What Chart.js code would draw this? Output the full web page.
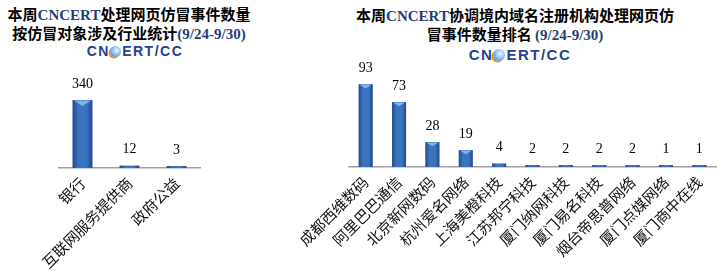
<!DOCTYPE html>
<html>
<head>
<meta charset="utf-8">
<script src="https://cdn.jsdelivr.net/npm/chart.js@4/dist/chart.umd.min.js"></script>
<style>
body { margin: 0; width: 726px; height: 280px; background: #fff; position: relative; overflow: hidden; font-family: 'Noto Sans CJK SC', sans-serif; }
canvas { position: absolute; top: 0; }
.title { position: absolute; text-align: center; font-weight: bold; font-size: 15px; line-height: 18px; color: #000; white-space: nowrap; }
.en { font-family: 'Liberation Serif', serif; color: #1f3d7a; }
.logo { position: absolute; text-align: center; font-family: 'Liberation Sans', sans-serif; font-weight: bold; color: #25418f; letter-spacing: 1.5px; white-space: nowrap; }
.globe { display: inline-block; width: 0.8em; height: 0.8em; border-radius: 50%; vertical-align: -0.05em;
  background: radial-gradient(circle at 60% 40%, #f4f9ff 0, #8cc0ef 45%, #2f74c4 100%);
  box-shadow: -1.5px 1.5px 0 #f0901e; margin-right: 1px; }
</style>
</head>
<body>
<div class="title" style="left:0;width:258px;top:5px">本周<span class="en">CNCERT</span>处理网页仿冒事件数量<br>按仿冒对象涉及行业统计<span class="en">(9/24-9/30)</span></div>
<div class="logo" style="left:80px;width:110px;top:44px;font-size:14px;line-height:14px">CN<span class="globe"></span>ERT/CC</div>
<div class="title" style="left:345px;width:340px;top:6px">本周<span class="en">CNCERT</span>协调境内域名注册机构处理网页仿<br>冒事件数量排名 <span class="en">(9/24-9/30)</span></div>
<div class="logo" style="left:460px;width:120px;top:47px;font-size:15px;line-height:15px">CN<span class="globe"></span>ERT/CC</div>

<canvas id="left" width="260" height="280" style="left:0"></canvas>
<canvas id="right" width="426" height="280" style="left:300px"></canvas>

<script>
// left chart: by industry
const leftCats = ['银行', '互联网服务提供商', '政府公益'];
const leftVals = [340, 12, 3];

// right chart: registrar ranking
const rightCats = ['成都西维数码', '阿里巴巴通信', '北京新网数码', '杭州爱名网络', '上海美橙科技',
  '江苏邦宁科技', '厦门纳网科技', '厦门易名科技', '烟台帝思普网络', '厦门点媒网络', '厦门商中在线'];
const rightVals = [93, 73, 28, 19, 4, 2, 2, 2, 2, 1, 1];

// shading, top cap and value label on each bar
const barLook = {
  id: 'barLook',
  afterDatasetsDraw(chart) {
    const ctx = chart.ctx;
    const vals = chart.data.datasets[0].data;
    chart.getDatasetMeta(0).data.forEach((bar, i) => {
      const { x, y, base, width } = bar.getProps(['x', 'y', 'base', 'width'], true);
      const l = x - width / 2, r = x + width / 2, h = base - y;
      ctx.save();
      const g = ctx.createLinearGradient(l, 0, r, 0);
      g.addColorStop(0, 'rgba(15,40,90,0.55)');
      g.addColorStop(0.3, 'rgba(15,40,90,0)');
      g.addColorStop(0.7, 'rgba(15,40,90,0)');
      g.addColorStop(1, 'rgba(15,40,90,0.55)');
      ctx.fillStyle = g;
      ctx.fillRect(l, y, width, h);
      if (h > 6) {
        ctx.fillStyle = '#82b2ee';
        ctx.beginPath();
        ctx.moveTo(l + 1, y + 0.5);
        ctx.lineTo(r - 1, y + 0.5);
        ctx.lineTo(x, y + Math.min(width * 0.3, h / 2));
        ctx.closePath();
        ctx.fill();
      }
      ctx.font = '14px "Liberation Serif"';
      ctx.fillStyle = '#000';
      ctx.textAlign = 'center';
      ctx.textBaseline = 'bottom';
      ctx.fillText(vals[i], x, y - 9);
      ctx.restore();
    });
  }
};

function makeChart(id, cats, vals, yMax, pad, xHeight, barPct) {
  return new Chart(document.getElementById(id), {
    type: 'bar',
    data: {
      labels: cats,
      datasets: [{
        data: vals,
        backgroundColor: '#3a73c0',
        barPercentage: barPct,
        categoryPercentage: 1,
        minBarLength: 2
      }]
    },
    options: {
      responsive: false,
      animation: false,
      layout: { padding: pad },
      plugins: { legend: { display: false }, tooltip: { enabled: false } },
      scales: {
        x: {
          grid: { display: false, drawTicks: false },
          border: { color: '#a0a0a0', width: 1.5 },
          ticks: {
            color: '#111',
            font: { family: 'Noto Sans CJK SC', size: 15 },
            minRotation: 45, maxRotation: 45, autoSkip: false, padding: 6
          },
          afterFit(s) { s.height = xHeight; s.paddingLeft = 0; s.paddingRight = 0; }
        },
        y: { display: false, min: 0, max: yMax }
      }
    },
    plugins: [barLook]
  });
}

makeChart('left', leftCats, leftVals, 440, { top: 80, left: 59, right: 60, bottom: 0 }, 112, 0.42);
makeChart('right', rightCats, rightVals, 100, { top: 78, left: 49, right: 10, bottom: 0 }, 113, 0.42);
</script>
</body>
</html>
